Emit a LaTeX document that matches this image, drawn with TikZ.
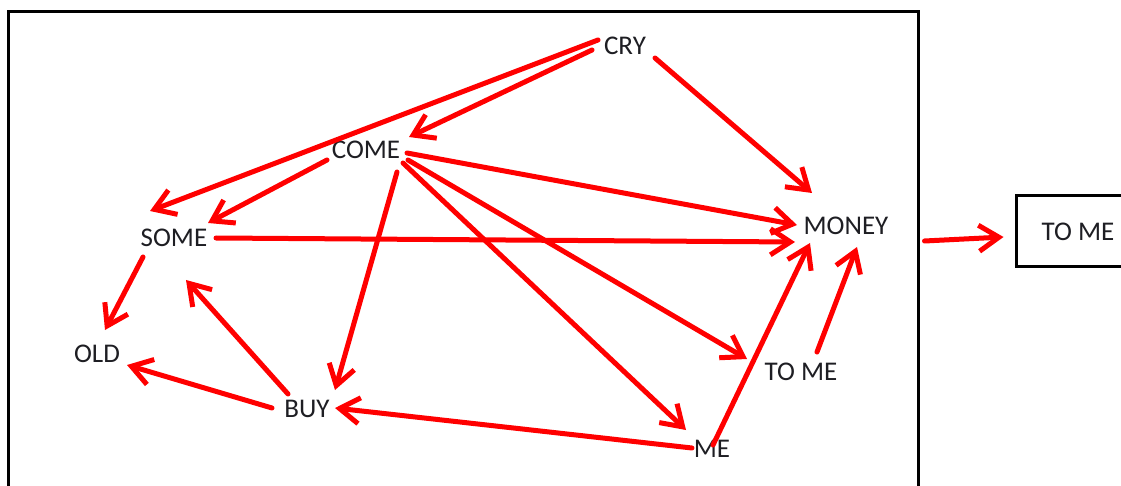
\documentclass[tikz,border=0pt]{standalone}
\usepackage{fontspec}
\setmainfont{Carlito}
\usetikzlibrary{arrows.meta,calc}
\definecolor{arrowred}{RGB}{255,0,0}
\definecolor{inkgray}{RGB}{30,30,35}
\tikzset{
  word/.style={inner sep=0pt, text=inkgray, font=\fontsize{27}{30}\selectfont},
  rel/.style={draw=arrowred, line width=5pt, line cap=round,
    -{Straight Barb[length=20pt,width=26pt,line width=5pt]}},
  panel/.style={draw=black, line width=3pt, inner sep=0pt},
}
\begin{document}
\begin{tikzpicture}[x=1pt,y=-1pt]
  \useasboundingbox (0,0) rectangle (1121,486);
  \clip (0,0) rectangle (1121,486);
  \fill[white] (0,0) rectangle (1121,486);

  % outer frame and the separate box on the right
  \node[panel, minimum width=910pt, minimum height=488pt] (frame) at (463,256) {};
  \node[panel, word, minimum width=124pt, minimum height=71pt] (outbox) at (1078,231.5) {TO ME};

  % words
  \node[word] (cry)   at (625,46)  {CRY};
  \node[word] (come)  at (366,150) {COME};
  \node[word] (some)  at (174,238) {SOME};
  \node[word] (old)   at (97,354)  {OLD};
  \node[word] (buy)   at (307,409) {BUY};
  \node[word] (me)    at (712,449) {ME};
  \node[word] (tome)  at (801,372) {TO ME};
  \node[word] (money) at (846,226) {MONEY};

  % relations
  \draw[rel] ($(cry)+(-27,-6)$)  -- ($(some)+(-24,-27)$);
  \draw[rel] ($(cry)+(-33,4)$)   -- ($(come)+(43,-13)$);
  \draw[rel] ($(cry)+(30,12)$)   -- ($(money)+(-34,-33)$);
  \draw[rel] ($(come)+(-39,10)$) -- ($(some)+(34,-15)$);
  \draw[rel] ($(come)+(41,3)$)   -- ($(money)+(-49,-1)$);
  \draw[rel] ($(come)+(31,22)$)  -- ($(buy)+(28,-19)$);
  \draw[rel] ($(come)+(42,10)$)  -- ($(tome)+(-54,-13)$);
  \draw[rel] ($(come)+(37,13)$)  -- ($(me)+(-26,-19)$);
  \draw[rel] ($(some)+(42,0)$)   -- ($(money)+(-51,16)$);
  \draw[rel] ($(some)+(-31,19)$) -- ($(old)+(8,-24)$);
  \draw[rel] ($(buy)+(-19,-15)$) -- ($(some)+(12,42)$);
  \draw[rel] ($(buy)+(-35,-1)$)  -- ($(old)+(30,11)$);
  \draw[rel] ($(me)+(-20,-1)$)   -- ($(buy)+(28,-1)$);
  \draw[rel] ($(me)+(1,-4)$)     -- ($(money)+(-36,17)$);
  \draw[rel] ($(tome)+(16,-20)$) -- ($(money)+(11,21)$);
  \draw[rel] ($(frame.east)+(5,-15)$) -- ($(outbox.west)+(-11,5.5)$);
\end{tikzpicture}
\end{document}
